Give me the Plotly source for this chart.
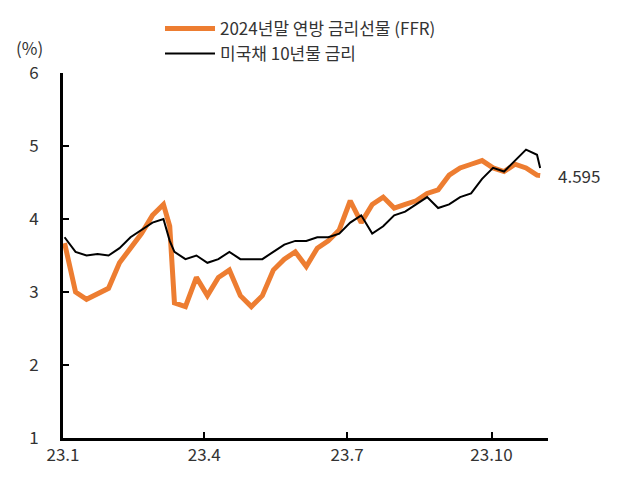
import plotly.graph_objects as go

dates = ["2023-01-02", "2023-01-09", "2023-01-16", "2023-01-23", "2023-01-30", "2023-02-06",
         "2023-02-13", "2023-02-20", "2023-02-27", "2023-03-06", "2023-03-10", "2023-03-13",
         "2023-03-20", "2023-03-27", "2023-04-03", "2023-04-10", "2023-04-17", "2023-04-24",
         "2023-05-01", "2023-05-08", "2023-05-15", "2023-05-22", "2023-05-29", "2023-06-05",
         "2023-06-12", "2023-06-19", "2023-06-26", "2023-07-03", "2023-07-10", "2023-07-17",
         "2023-07-24", "2023-07-31", "2023-08-07", "2023-08-14", "2023-08-21", "2023-08-28",
         "2023-09-04", "2023-09-11", "2023-09-18", "2023-09-25", "2023-10-02", "2023-10-09",
         "2023-10-16", "2023-10-23", "2023-10-30", "2023-11-01"]

ffr_2024 = [3.67, 3.0, 2.9, 2.98, 3.05, 3.4, 3.6, 3.8, 4.05, 4.2, 3.9, 2.85,
            2.8, 3.2, 2.95, 3.2, 3.3, 2.95, 2.8, 2.95, 3.3, 3.45, 3.55, 3.35,
            3.6, 3.7, 3.85, 4.25, 3.95, 4.2, 4.3, 4.15, 4.2, 4.25, 4.35, 4.4,
            4.6, 4.7, 4.75, 4.8, 4.7, 4.65, 4.75, 4.7, 4.6, 4.595]

ust_10y = [3.75, 3.55, 3.5, 3.52, 3.5, 3.6, 3.75, 3.85, 3.95, 4.0, 3.7, 3.55,
           3.45, 3.5, 3.4, 3.45, 3.55, 3.45, 3.45, 3.45, 3.55, 3.65, 3.7, 3.7,
           3.75, 3.75, 3.8, 3.95, 4.05, 3.8, 3.9, 4.05, 4.1, 4.2, 4.3, 4.15,
           4.2, 4.3, 4.35, 4.55, 4.7, 4.65, 4.8, 4.95, 4.88, 4.7]

tick_vals = ["2023-01-01", "2023-04-01", "2023-07-01", "2023-10-01"]
tick_text = ["23.1", "23.4", "23.7", "23.10"]

fig = go.Figure()
fig.add_trace(go.Scatter(x=dates, y=ffr_2024, mode="lines", name="2024년말 연방 금리선물 (FFR)",
                         line=dict(color="#ED7D31", width=5)))
fig.add_trace(go.Scatter(x=dates, y=ust_10y, mode="lines", name="미국채 10년물 금리",
                         line=dict(color="black", width=2)))

fig.add_annotation(x=dates[-1], y=ffr_2024[-1], text=str(ffr_2024[-1]), showarrow=False,
                   xanchor="left", xshift=16, font=dict(size=17, color="#333"))
fig.add_annotation(xref="paper", yref="paper", x=-0.07, y=1.11, text="(%)", showarrow=False,
                   xanchor="center", font=dict(size=17, color="#333"))

fig.update_layout(
    width=628, height=481,
    margin=dict(l=55, r=88, t=65, b=51, autoexpand=False),
    plot_bgcolor="white", paper_bgcolor="white",
    font=dict(family="Noto Sans CJK KR", size=17, color="#333"),
    showlegend=True,
    legend=dict(x=0.2, y=1.17, xanchor="left", yanchor="top", bgcolor="rgba(0,0,0,0)",
                font=dict(size=17), itemwidth=50, tracegroupgap=4),
    xaxis=dict(range=["2023-01-01", "2023-11-06"], tickvals=tick_vals, ticktext=tick_text,
               showline=True, linecolor="black", linewidth=3, ticks="inside", ticklen=6,
               tickwidth=2, tickcolor="black", showgrid=False, zeroline=False),
    yaxis=dict(range=[1, 6], dtick=1, showline=True, linecolor="black", linewidth=3,
               ticks="inside", ticklen=6, tickwidth=2, tickcolor="black", showgrid=False,
               zeroline=False, ticklabelstandoff=18),
)

fig.write_html("out.html")
